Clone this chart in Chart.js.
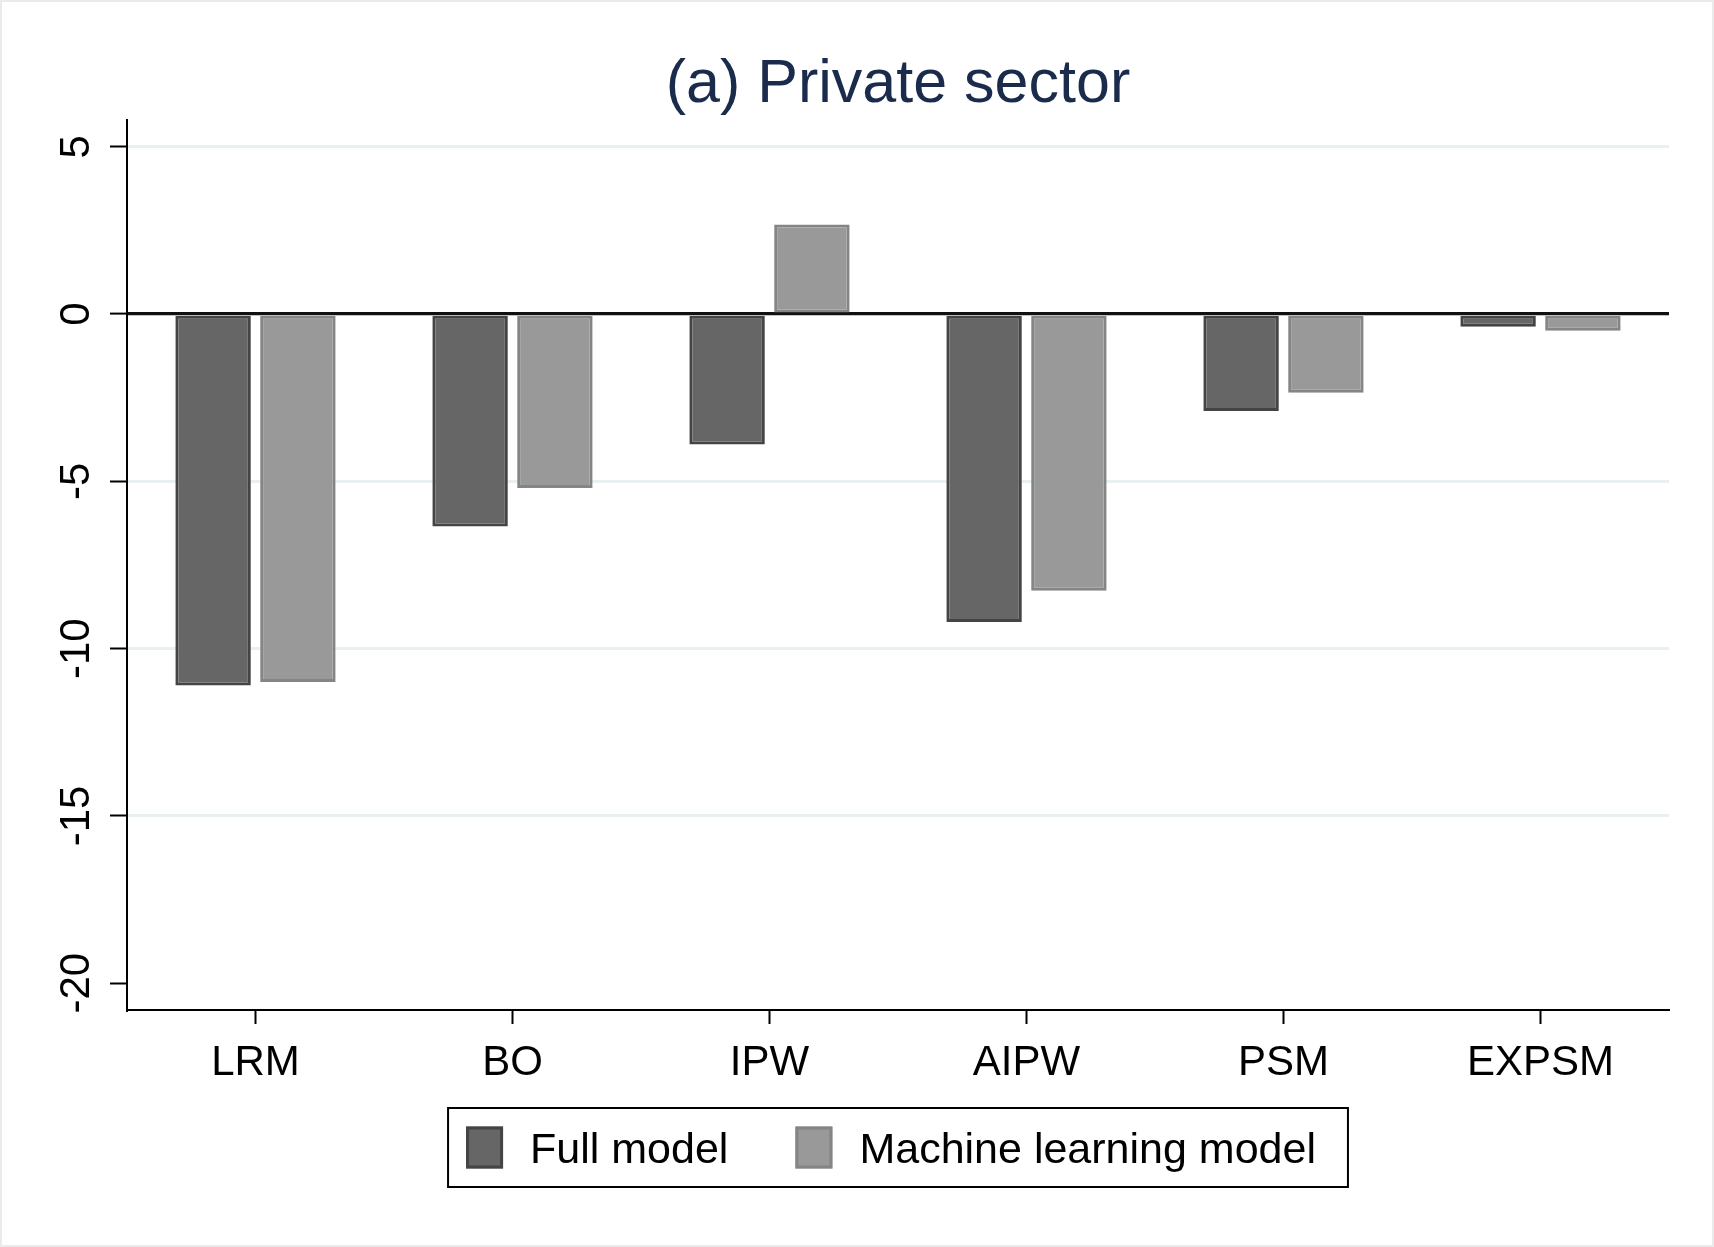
<!DOCTYPE html>
<html>
<head>
<meta charset="utf-8">
<script src="https://cdn.jsdelivr.net/npm/chart.js@4"></script>
<style>
html, body { margin: 0; padding: 0; background: #fff; }
</style>
</head>
<body>
<canvas id="myChart" width="1714" height="1247"></canvas>
<script>
var categories = ['LRM', 'BO', 'IPW', 'AIPW', 'PSM', 'EXPSM'];
var fullModel = [-11.1, -6.35, -3.9, -9.2, -2.9, -0.38];
var mlModel = [-11.0, -5.2, 2.68, -8.27, -2.35, -0.5];
var seriesNames = ['Full model', 'Machine learning model'];
var yTicks = [-20, -15, -10, -5, 0, 5];
var chartTitle = '(a) Private sector';

var FONT = '"Liberation Sans", Arial, sans-serif';
var fillColors = ['#666666', '#999999'];
var edgeColors = ['#444444', '#858585'];

// white page with the faint frame round it
var background = {
    id: 'background',
    beforeDraw: function(chart) {
        var ctx = chart.ctx;
        ctx.save();
        ctx.fillStyle = '#ffffff';
        ctx.fillRect(0, 0, chart.width, chart.height);
        ctx.strokeStyle = '#ebebeb';
        ctx.lineWidth = 2;
        ctx.strokeRect(1, 1, chart.width - 2, chart.height - 2);
        ctx.restore();
    }
};

// title and boxed legend, both centred on the plot area
var titleAndLegend = {
    id: 'titleAndLegend',
    afterDraw: function(chart) {
        var ctx = chart.ctx;
        var area = chart.chartArea;
        var cx = (area.left + area.right) / 2;
        ctx.save();
        ctx.fillStyle = '#1a2b4c';
        ctx.font = '61px ' + FONT;
        ctx.textAlign = 'center';
        ctx.textBaseline = 'alphabetic';
        ctx.fillText(chartTitle, cx, 102);

        ctx.font = '43px ' + FONT;
        var sq = 37, gap = 27, itemGap = 67, padL = 18, padR = 32;
        var widths = chart.data.datasets.map(function(d) { return ctx.measureText(d.label).width; });
        var total = padL + padR;
        widths.forEach(function(w, i) { total += sq + gap + w + (i > 0 ? itemGap : 0); });
        var boxTop = 1108, boxH = 79;
        var left = cx - total / 2;
        ctx.strokeStyle = '#000';
        ctx.lineWidth = 2;
        ctx.strokeRect(left, boxTop, total, boxH);

        var x = left + padL;
        var midY = boxTop + boxH / 2;
        chart.data.datasets.forEach(function(d, i) {
            if (i > 0) x += itemGap;
            ctx.fillStyle = d.backgroundColor;
            ctx.fillRect(x, midY - 21, sq, 42);
            ctx.strokeStyle = d.borderColor;
            ctx.lineWidth = 3;
            ctx.strokeRect(x + 1.5, midY - 19.5, sq - 3, 39);
            x += sq + gap;
            ctx.fillStyle = '#000';
            ctx.textAlign = 'left';
            ctx.textBaseline = 'alphabetic';
            ctx.fillText(d.label, x, midY + 15);
            x += widths[i];
        });
        ctx.restore();
    }
};

window.onload = function() {
    var ctx = document.getElementById('myChart').getContext('2d');
    var chart = new Chart(ctx, {
        type: 'bar',
        data: {
            labels: categories,
            datasets: [{
                label: seriesNames[0],
                data: fullModel,
                backgroundColor: fillColors[0],
                borderColor: edgeColors[0],
                borderWidth: 3,
                borderSkipped: false
            }, {
                label: seriesNames[1],
                data: mlModel,
                backgroundColor: fillColors[1],
                borderColor: edgeColors[1],
                borderWidth: 3,
                borderSkipped: false
            }]
        },
        options: {
            responsive: false,
            animation: false,
            datasets: { bar: { categoryPercentage: 0.66, barPercentage: 0.89 } },
            layout: { padding: { top: 120, right: 45, left: 0, bottom: 0 } },
            plugins: {
                legend: { display: false },
                title: { display: false },
                tooltip: { enabled: false }
            },
            scales: {
                x: {
                    grid: { offset: false, drawOnChartArea: false, tickLength: 14, tickColor: '#000', tickWidth: 2 },
                    border: { color: '#000', width: 2 },
                    ticks: { color: '#000', font: { family: FONT, size: 42 }, padding: 14 },
                    afterFit: function(s) { s.height = 237; }
                },
                y: {
                    min: -20.8,
                    max: 5.8,
                    afterBuildTicks: function(s) {
                        s.ticks = yTicks.map(function(v) { return { value: v }; });
                    },
                    grid: {
                        color: function(c) {
                            if (c.tick.value === 0) return '#111';
                            if (c.tick.value === -20) return 'rgba(0,0,0,0)';
                            return '#e8f0f2';
                        },
                        lineWidth: function(c) { return c.tick.value === 0 ? 3.2 : 3; },
                        tickLength: 17,
                        tickColor: '#000',
                        tickWidth: 2
                    },
                    border: { color: '#000', width: 2 },
                    ticks: {
                        color: '#000',
                        font: { family: FONT, size: 42 },
                        minRotation: 90,
                        maxRotation: 90,
                        crossAlign: 'center',
                        padding: 2
                    },
                    afterFit: function(s) { s.width = 127; }
                }
            }
        },
        plugins: [background, titleAndLegend]
    });
};
</script>
</body>
</html>
